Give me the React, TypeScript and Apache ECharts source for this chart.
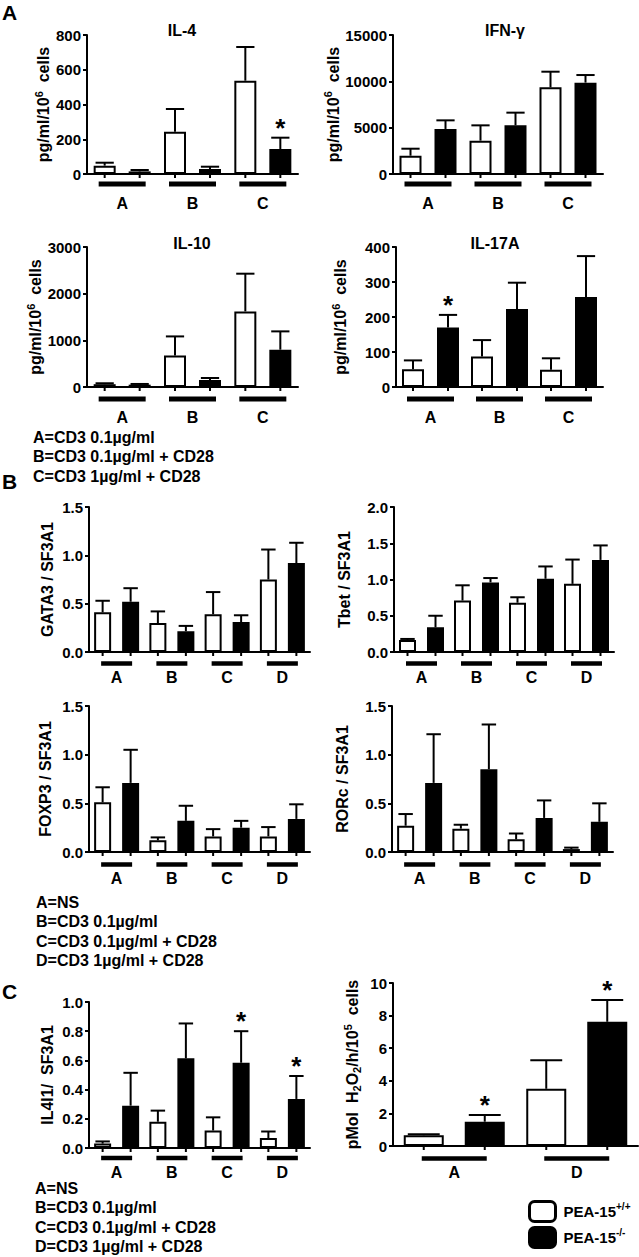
import React, { useEffect, useRef } from "react";
import * as echarts from "echarts";

const FONT = "'Liberation Sans', Arial, Helvetica, sans-serif";

// ---------- categories ----------
const groups3 = ["A", "B", "C"];
const groups4 = ["A", "B", "C", "D"];
const groupsAD = ["A", "D"];

// ---------- Panel A : cytokines (pg/ml/10^6 cells) ----------
const il4Wt = [48, 243, 537];
const il4WtErr = [65, 374, 731];
const il4Ko = [15, 29, 144];
const il4KoErr = [23, 42, 209];
const il4KoSig = [0, 0, 1];

const ifngWt = [1975, 3600, 9350];
const ifngWtErr = [2730, 5250, 11040];
const ifngKo = [4860, 5250, 9860];
const ifngKoErr = [5790, 6620, 10680];
const ifngKoSig = [0, 0, 0];

const il10Wt = [60, 677, 1620];
const il10WtErr = [80, 1084, 2428];
const il10Ko = [50, 150, 800];
const il10KoErr = [65, 193, 1192];
const il10KoSig = [0, 0, 0];

const il17Wt = [51, 87, 49];
const il17WtErr = [76, 134, 82];
const il17Ko = [170, 223, 257];
const il17KoErr = [206, 298, 374];
const il17KoSig = [1, 0, 0];

// ---------- Panel B : transcription factors / SF3A1 ----------
const gata3Wt = [0.41, 0.3, 0.39, 0.75];
const gata3WtErr = [0.53, 0.42, 0.62, 1.06];
const gata3Ko = [0.52, 0.215, 0.31, 0.92];
const gata3KoErr = [0.66, 0.27, 0.38, 1.13];

const tbetWt = [0.165, 0.71, 0.68, 0.94];
const tbetWtErr = [0.18, 0.92, 0.755, 1.275];
const tbetKo = [0.34, 0.96, 1.01, 1.27];
const tbetKoErr = [0.5, 1.02, 1.18, 1.47];

const foxp3Wt = [0.51, 0.12, 0.16, 0.16];
const foxp3WtErr = [0.665, 0.15, 0.235, 0.256];
const foxp3Ko = [0.71, 0.32, 0.25, 0.34];
const foxp3KoErr = [1.05, 0.475, 0.32, 0.49];

const rorcWt = [0.27, 0.24, 0.13, 0.03];
const rorcWtErr = [0.39, 0.28, 0.19, 0.045];
const rorcKo = [0.71, 0.85, 0.35, 0.31];
const rorcKoErr = [1.21, 1.31, 0.53, 0.5];

const noSig4 = [0, 0, 0, 0];

// ---------- Panel C ----------
const il4i1Wt = [0.03, 0.18, 0.12, 0.068];
const il4i1WtErr = [0.045, 0.256, 0.21, 0.113];
const il4i1Ko = [0.29, 0.614, 0.584, 0.336];
const il4i1KoErr = [0.515, 0.853, 0.8, 0.493];
const il4i1KoSig = [0, 0, 1, 1];

const h2o2Wt = [0.66, 3.51];
const h2o2WtErr = [0.72, 5.26];
const h2o2Ko = [1.49, 7.62];
const h2o2KoErr = [1.9, 8.96];
const h2o2KoSig = [1, 1];

// ---------- texts ----------
const WT_NAME = "PEA-15+/+";
const KO_NAME = "PEA-15-/-";
const legendA = ["A=CD3 0.1µg/ml", "B=CD3 0.1µg/ml + CD28", "C=CD3 1µg/ml + CD28"];
const legendBC = ["A=NS", "B=CD3 0.1µg/ml", "C=CD3 0.1µg/ml + CD28", "D=CD3 1µg/ml + CD28"];

type Panel = {
  cats: string[];
  wt: number[];
  wtErr: number[];
  ko: number[];
  koErr: number[];
  koSig: number[];
  max: number;
  interval: number;
  dec: number;
  yName: string;
  nameGap: number;
  grid: { left: number; top: number; width: number; height: number };
  barW: number;
  spacing: number;
  ext: number;
  thick: number;
  lineOff: number;
  labelMargin: number;
};

const panels: Panel[] = [
  {
    cats: groups3, wt: il4Wt, wtErr: il4WtErr, ko: il4Ko, koErr: il4KoErr, koSig: il4KoSig,
    max: 800, interval: 200, dec: 0, yName: "pg/ml/10{sup|6}  cells", nameGap: 33,
    grid: { left: 87, top: 35, width: 211, height: 139 },
    barW: 22, spacing: 35, ext: 6, thick: 5, lineOff: 10, labelMargin: 21,
  },
  {
    cats: groups3, wt: ifngWt, wtErr: ifngWtErr, ko: ifngKo, koErr: ifngKoErr, koSig: ifngKoSig,
    max: 15000, interval: 5000, dec: 0, yName: "pg/ml/10{sup|6}  cells", nameGap: 48,
    grid: { left: 393, top: 35, width: 210, height: 139 },
    barW: 22, spacing: 35, ext: 6, thick: 5, lineOff: 10, labelMargin: 21,
  },
  {
    cats: groups3, wt: il10Wt, wtErr: il10WtErr, ko: il10Ko, koErr: il10KoErr, koSig: il10KoSig,
    max: 3000, interval: 1000, dec: 0, yName: "pg/ml/10{sup|6}  cells", nameGap: 34,
    grid: { left: 87, top: 247, width: 211, height: 140 },
    barW: 22, spacing: 35, ext: 6, thick: 5, lineOff: 12, labelMargin: 22,
  },
  {
    cats: groups3, wt: il17Wt, wtErr: il17WtErr, ko: il17Ko, koErr: il17KoErr, koSig: il17KoSig,
    max: 400, interval: 100, dec: 0, yName: "pg/ml/10{sup|6}  cells", nameGap: 45,
    grid: { left: 396, top: 247, width: 207, height: 140 },
    barW: 22, spacing: 35, ext: 6, thick: 5, lineOff: 12, labelMargin: 22,
  },
  {
    cats: groups4, wt: gata3Wt, wtErr: gata3WtErr, ko: gata3Ko, koErr: gata3KoErr, koSig: noSig4,
    max: 1.5, interval: 0.5, dec: 1, yName: "GATA3 / SF3A1", nameGap: 34,
    grid: { left: 89, top: 507, width: 221, height: 145 },
    barW: 17, spacing: 28, ext: 1.5, thick: 4.5, lineOff: 11.5, labelMargin: 17,
  },
  {
    cats: groups4, wt: tbetWt, wtErr: tbetWtErr, ko: tbetKo, koErr: tbetKoErr, koSig: noSig4,
    max: 2.0, interval: 0.5, dec: 1, yName: "Tbet / SF3A1", nameGap: 42,
    grid: { left: 394, top: 507, width: 220, height: 145 },
    barW: 17, spacing: 28, ext: 1.5, thick: 4.5, lineOff: 11.5, labelMargin: 17,
  },
  {
    cats: groups4, wt: foxp3Wt, wtErr: foxp3WtErr, ko: foxp3Ko, koErr: foxp3KoErr, koSig: noSig4,
    max: 1.5, interval: 0.5, dec: 1, yName: "FOXP3 / SF3A1", nameGap: 36,
    grid: { left: 89, top: 706, width: 221, height: 146 },
    barW: 17, spacing: 28, ext: 1.5, thick: 4.5, lineOff: 12.5, labelMargin: 18,
  },
  {
    cats: groups4, wt: rorcWt, wtErr: rorcWtErr, ko: rorcKo, koErr: rorcKoErr, koSig: noSig4,
    max: 1.5, interval: 0.5, dec: 1, yName: "RORc / SF3A1", nameGap: 42,
    grid: { left: 392, top: 706, width: 221, height: 146 },
    barW: 17, spacing: 28, ext: 1.5, thick: 4.5, lineOff: 12.5, labelMargin: 18,
  },
  {
    cats: groups4, wt: il4i1Wt, wtErr: il4i1WtErr, ko: il4i1Ko, koErr: il4i1KoErr, koSig: il4i1KoSig,
    max: 1.0, interval: 0.2, dec: 1, yName: "IL4I1/  SF3A1", nameGap: 34,
    grid: { left: 89, top: 1002, width: 221, height: 146 },
    barW: 17, spacing: 28, ext: 1.5, thick: 4.5, lineOff: 10, labelMargin: 16,
  },
  {
    cats: groupsAD, wt: h2o2Wt, wtErr: h2o2WtErr, ko: h2o2Ko, koErr: h2o2KoErr, koSig: h2o2KoSig,
    max: 10, interval: 2, dec: 0, yName: "pMol  H{sub|2}O{sub|2}/h/10{sup|5}  cells", nameGap: 30,
    grid: { left: 393, top: 983, width: 245, height: 163 },
    barW: 40, spacing: 61, ext: 2, thick: 4.5, lineOff: 12.5, labelMargin: 18,
  },
];

const titles = [
  { text: "IL-4", x: 182, y: 30 },
  { text: "IFN-γ", x: 505, y: 30 },
  { text: "IL-10", x: 192, y: 243 },
  { text: "IL-17A", x: 495, y: 243 },
];

function buildOption() {
  const grid: any[] = [];
  const xAxis: any[] = [];
  const yAxis: any[] = [];
  const series: any[] = [];

  panels.forEach((p, i) => {
    grid.push({ ...p.grid, containLabel: false });
    xAxis.push({
      type: "category",
      gridIndex: i,
      data: p.cats,
      axisLine: { lineStyle: { color: "#000", width: 2 } },
      axisTick: { show: false },
      axisLabel: {
        color: "#000",
        fontFamily: FONT,
        fontWeight: "bold",
        fontSize: 16,
        margin: p.labelMargin,
      },
      splitLine: { show: false },
    });
    yAxis.push({
      type: "value",
      gridIndex: i,
      min: 0,
      max: p.max,
      interval: p.interval,
      name: p.yName,
      nameLocation: "middle",
      nameGap: p.nameGap,
      nameRotate: 90,
      nameTextStyle: {
        color: "#000",
        fontFamily: FONT,
        fontWeight: "bold",
        fontSize: 16,
        rich: {
          sup: { fontFamily: FONT, fontWeight: "bold", fontSize: 11, color: "#000", padding: [0, 0, 10, 0] },
          sub: { fontFamily: FONT, fontWeight: "bold", fontSize: 11, color: "#000", padding: [8, 0, 0, 0] },
        },
      },
      axisLine: { show: true, lineStyle: { color: "#000", width: 2 } },
      axisTick: { show: true, length: 4, lineStyle: { color: "#000", width: 2 } },
      axisLabel: {
        color: "#000",
        fontFamily: FONT,
        fontWeight: "bold",
        fontSize: 15,
        margin: 6,
        formatter: (v: number) => v.toFixed(p.dec),
      },
      splitLine: { show: false },
    });

    const gap = `${((p.spacing / p.barW) - 1) * 100}%`;
    series.push({
      type: "bar",
      name: WT_NAME,
      xAxisIndex: i,
      yAxisIndex: i,
      data: p.wt,
      barWidth: p.barW,
      barGap: gap,
      itemStyle: { color: "#fff", borderColor: "#000", borderWidth: 2 },
      z: 2,
    });
    series.push({
      type: "bar",
      name: KO_NAME,
      xAxisIndex: i,
      yAxisIndex: i,
      data: p.ko,
      barWidth: p.barW,
      barGap: gap,
      itemStyle: { color: "#000", borderColor: "#000", borderWidth: 2 },
      z: 2,
    });

    const errData: any[] = [];
    p.cats.forEach((_, g) => {
      errData.push([g, p.wt[g], p.wtErr[g], 0, -1]);
      errData.push([g, p.ko[g], p.koErr[g], p.koSig[g], 1]);
    });
    const half = p.spacing / 2;
    const capHalf = (p.barW + 2) * 0.38;
    series.push({
      type: "custom",
      name: "err" + i,
      xAxisIndex: i,
      yAxisIndex: i,
      data: errData,
      encode: { x: 0, y: 1 },
      silent: true,
      z: 5,
      renderItem: (params: any, api: any) => {
        const g = api.value(0);
        const mean = api.value(1);
        const err = api.value(2);
        const sig = api.value(3);
        const side = api.value(4);
        const pm = api.coord([g, mean]);
        const pe = api.coord([g, err]);
        const p0 = api.coord([g, 0]);
        const x = pm[0] + side * half;
        const children: any[] = [
          { type: "line", shape: { x1: x, y1: pm[1], x2: x, y2: pe[1] }, style: { stroke: "#000", lineWidth: 2 } },
          { type: "line", shape: { x1: x - capHalf, y1: pe[1], x2: x + capHalf, y2: pe[1] }, style: { stroke: "#000", lineWidth: 2 } },
          { type: "line", shape: { x1: x, y1: p0[1], x2: x, y2: p0[1] + 4 }, style: { stroke: "#000", lineWidth: 2 } },
        ];
        if (sig) {
          children.push({
            type: "text",
            x: x,
            y: pe[1] - 10,
            style: {
              text: "*",
              fill: "#000",
              font: `bold 26px ${FONT}`,
              textAlign: "center",
              textVerticalAlign: "middle",
            },
          });
        }
        return { type: "group", children };
      },
    });

    series.push({
      type: "custom",
      name: "under" + i,
      xAxisIndex: i,
      yAxisIndex: i,
      data: p.cats.map((_, g) => [g, 0]),
      encode: { x: 0, y: 1 },
      silent: true,
      z: 5,
      renderItem: (params: any, api: any) => {
        const g = api.value(0);
        const c = api.coord([g, 0]);
        const hl = half + p.ext;
        return {
          type: "rect",
          shape: { x: c[0] - hl, y: c[1] + p.lineOff - p.thick / 2, width: hl * 2, height: p.thick },
          style: { fill: "#000" },
        };
      },
    });
  });

  const graphic: any[] = [];
  const txt = (text: string, x: number, y: number, size: number, align = "left") => ({
    type: "text",
    x,
    y,
    silent: true,
    style: {
      text,
      fill: "#000",
      font: `bold ${size}px ${FONT}`,
      textAlign: align,
      textVerticalAlign: "middle",
    },
  });
  graphic.push(txt("A", 2, 12, 21));
  graphic.push(txt("B", 2, 481, 21));
  graphic.push(txt("C", 2, 991, 21));
  titles.forEach((t) => graphic.push(txt(t.text, t.x, t.y, 16, "center")));
  legendA.forEach((s, k) => graphic.push(txt(s, 33, 437 + k * 19.5, 16)));
  legendBC.forEach((s, k) => graphic.push(txt(s, 36, 902 + k * 19.6, 16)));
  legendBC.forEach((s, k) => graphic.push(txt(s, 35, 1188 + k * 19.6, 16)));

  const legendBase = {
    orient: "vertical",
    left: 528,
    itemWidth: 26,
    itemHeight: 20,
    icon: "roundRect",
    selectedMode: false,
    itemStyle: { borderWidth: 3, borderColor: "#000" },
    formatter: (name: string) =>
      name === WT_NAME ? "{b|PEA-15}{s|+/+}" : "{b|PEA-15}{s|-/-}",
    textStyle: {
      color: "#000",
      fontFamily: FONT,
      fontWeight: "bold",
      fontSize: 15,
      padding: [0, 0, 0, 3],
      rich: {
        b: { color: "#000", fontFamily: FONT, fontWeight: "bold", fontSize: 15 },
        s: { color: "#000", fontFamily: FONT, fontWeight: "bold", fontSize: 10, padding: [0, 0, 10, 0] },
      },
    },
  };

  return {
    animation: false,
    backgroundColor: "#fff",
    grid,
    xAxis,
    yAxis,
    series,
    graphic,
    legend: [
      { ...legendBase, data: [WT_NAME], top: 1200, padding: 0 },
      { ...legendBase, data: [KO_NAME], top: 1226, padding: 0 },
    ],
  };
}

export default function App() {
  const ref = useRef<HTMLDivElement>(null);
  useEffect(() => {
    if (!ref.current) return;
    const chart = echarts.init(ref.current, undefined, { renderer: "svg" });
    chart.setOption(buildOption() as any);
    return () => chart.dispose();
  }, []);
  return (
    <div
      ref={ref}
      style={{ position: "absolute", left: 0, top: 0, width: 639, height: 1257, background: "#fff" }}
    />
  );
}
